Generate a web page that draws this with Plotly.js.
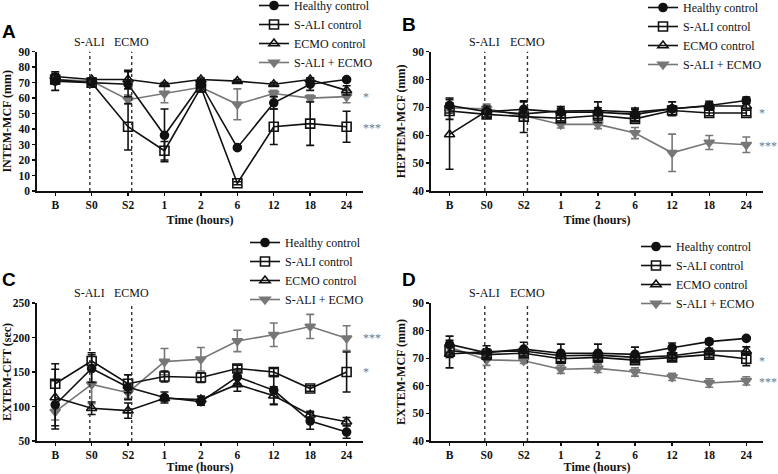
<!DOCTYPE html>
<html>
<head>
<meta charset="utf-8">
<script src="https://cdn.plot.ly/plotly-3.0.1.min.js"></script>
<style>
html, body { margin: 0; padding: 0; background: #fff; }
#chart { width: 778px; height: 474px; }
</style>
</head>
<body>
<div id="chart"></div>
<script>
// ---------- data ----------
const categories = ['B', 'S0', 'S2', '1', '2', '6', '12', '18', '24'];
const seriesNames = ['Healthy control', 'S-ALI control', 'ECMO control', 'S-ALI + ECMO'];
const eventLabels = ['S-ALI', 'ECMO'];
const eventPositions = [0.95, 2.1];

// Panel A: INTEM-MCF (mm)
const intemHealthy    = [71, 70, 69, 36, 69, 28, 57, 69, 72];
const intemHealthyErr = [6, 1, 8, 17, 2, 1, 4, 4, 1];
const intemSali       = [72, 70, 41.5, 26, 67, 5, 41.5, 43.5, 41.5];
const intemSaliErr    = [3, 1, 15, 6, 3, 1, 11.5, 14, 10];
const intemEcmo       = [74, 72, 72, 69, 72, 71, 69, 72, 65];
const intemEcmoErr    = [2, 1, 6, 1, 1, 1, 1, 1, 3];
const intemBoth       = [72, 71, 59, 63, 67, 56, 63, 60, 61];
const intemBothErr    = [2, 1, 3, 6, 2, 10, 2, 2, 4];

// Panel B: HEPTEM-MCF (mm)
const heptemHealthy    = [70.7, 68.5, 69.3, 68.3, 68.3, 67.5, 69.5, 70.7, 72.5];
const heptemHealthyErr = [2.7, 2, 2.7, 2, 3.7, 2.3, 2.5, 1.5, 1.2];
const heptemSali       = [68.7, 67.5, 66.7, 66.1, 67.1, 65.9, 68.9, 68, 68];
const heptemSaliErr    = [3, 1, 5.7, 1, 1, 1, 1.5, 1, 1];
const heptemEcmo       = [60.3, 68.7, 67.7, 68.7, 68.9, 68.3, 69.5, 70.5, 70.5];
const heptemEcmoErr    = [12.5, 1, 1, 1, 1, 1, 1, 1, 1];
const heptemBoth       = [69.8, 69.5, 67, 63.9, 63.9, 60.8, 53.7, 57.4, 56.6];
const heptemBothErr    = [1, 1.7, 1, 1.3, 1.5, 2, 6.7, 2.5, 2.8];

// Panel C: EXTEM-CFT (sec)
const cftHealthy    = [102.5, 155, 128, 113, 107, 143, 123.5, 79, 63];
const cftHealthyErr = [35, 20, 18, 8, 5, 10, 20, 12, 9];
const cftSali       = [133, 166, 133, 143.5, 142, 155, 150, 126, 150];
const cftSaliErr    = [29, 12, 13, 8, 7, 5, 5, 4, 29];
const cftEcmo       = [113, 97.5, 94, 112, 110, 132, 115.5, 88, 78];
const cftEcmoErr    = [41, 9, 11, 4, 5, 10, 13, 5, 6];
const cftBoth       = [92.5, 132, 120, 165, 168.5, 195, 204, 216, 199];
const cftBothErr    = [12, 28, 8, 19, 17, 15.5, 17, 17.5, 18];

// Panel D: EXTEM-MCF (mm)
const extemHealthy    = [75, 72, 73.3, 71.8, 71.8, 71.4, 73.8, 76, 77.2];
const extemHealthyErr = [3, 2.5, 2.5, 3.3, 3.3, 2.6, 1.7, 1, 0.5];
const extemSali       = [72.8, 71.3, 71.8, 69.8, 70.3, 69.3, 70.3, 71.3, 69.8];
const extemSaliErr    = [2.5, 1, 1, 1, 1, 1, 1, 1, 2.5];
const extemEcmo       = [71.5, 72.4, 72.6, 70.9, 71.1, 70.3, 70.9, 72.6, 72.6];
const extemEcmoErr    = [5, 1, 1, 1, 1, 1, 1, 1, 1.5];
const extemBoth       = [74, 69.4, 69.1, 66, 66.3, 65, 63.2, 61, 61.8];
const extemBothErr    = [1.5, 2, 1, 1.5, 1.5, 1.5, 1.3, 1.5, 1.5];

// significance marks: [label, y]
const starsA = [['*', 61], ['***', 41]];
const starsB = [['*', 68], ['***', 56]];
const starsC = [['***', 199], ['*', 150]];
const starsD = [['*', 69], ['***', 61.3]];

// ---------- build ----------
const xIdx = categories.map((c, i) => i);
const GRAY = '#777777';
const BLACK = '#111111';
const SERIF = 'Liberation Serif, Times New Roman, serif';

const styles = [
  { color: BLACK, symbol: 'circle', fill: BLACK, size: 8 },
  { color: BLACK, symbol: 'square-open', fill: BLACK, size: 9 },
  { color: BLACK, symbol: 'triangle-up-open', fill: BLACK, size: 9 },
  { color: GRAY, symbol: 'triangle-down', fill: GRAY, size: 9 }
];

const panels = [
  { ax: '', legend: 'legend', vals: [intemHealthy, intemSali, intemEcmo, intemBoth],
    errs: [intemHealthyErr, intemSaliErr, intemEcmoErr, intemBothErr], stars: starsA, starX: 8.4 },
  { ax: '2', legend: 'legend2', vals: [heptemHealthy, heptemSali, heptemEcmo, heptemBoth],
    errs: [heptemHealthyErr, heptemSaliErr, heptemEcmoErr, heptemBothErr], stars: starsB, starX: 8.3 },
  { ax: '3', legend: 'legend3', vals: [cftHealthy, cftSali, cftEcmo, cftBoth],
    errs: [cftHealthyErr, cftSaliErr, cftEcmoErr, cftBothErr], stars: starsC, starX: 8.4 },
  { ax: '4', legend: 'legend4', vals: [extemHealthy, extemSali, extemEcmo, extemBoth],
    errs: [extemHealthyErr, extemSaliErr, extemEcmoErr, extemBothErr], stars: starsD, starX: 8.3 }
];

const traces = [];
panels.forEach(p => {
  [3, 2, 1, 0].forEach(k => {
    const st = styles[k];
    traces.push({
      type: 'scatter', mode: 'lines+markers',
      x: xIdx, y: p.vals[k],
      name: seriesNames[k],
      legend: p.legend,
      legendrank: k + 1,
      xaxis: 'x' + p.ax, yaxis: 'y' + p.ax,
      line: { color: st.color, width: 1.6 },
      marker: { symbol: st.symbol, size: st.size, color: st.fill,
                line: { color: st.color, width: 1.6 } },
      error_y: { type: 'data', array: p.errs[k], visible: true,
                 color: st.color, thickness: 1.6, width: 4 },
      cliponaxis: false
    });
  });
});

const tickFont = { family: SERIF, size: 11.5, color: BLACK, weight: 'bold' };
const titleFont = { family: SERIF, size: 12, color: BLACK, weight: 'bold' };

function xAxis(domain, anchor) {
  return {
    domain: domain, anchor: anchor, range: [-0.5, 8.45],
    tickmode: 'array', tickvals: xIdx, ticktext: categories,
    showline: true, linecolor: BLACK, linewidth: 1.6,
    ticks: 'outside', ticklen: 3, tickwidth: 1.4, tickcolor: BLACK,
    showgrid: false, zeroline: false,
    tickfont: tickFont,
    title: { text: 'Time (hours)', font: titleFont, standoff: 5 }
  };
}
function yAxis(domain, anchor, range, dtick, title) {
  return {
    domain: domain, anchor: anchor, range: range, dtick: dtick, tick0: range[0],
    showline: true, linecolor: BLACK, linewidth: 1.6,
    ticks: 'outside', ticklen: 3, tickwidth: 1.4, tickcolor: BLACK,
    showgrid: false, zeroline: false,
    tickfont: tickFont,
    title: { text: title, font: titleFont, standoff: 4 }
  };
}

const W = 778, H = 474;
const leftX = [37 / W, 363 / W];
const rightX = [431 / W, 763 / W];
const topY = [1 - 191 / H, 1 - 51.7 / H];
const botY = [1 - 441 / H, 1 - 303 / H];

const layout = {
  width: W, height: H,
  margin: { l: 0, r: 0, t: 0, b: 0, autoexpand: false },
  paper_bgcolor: '#fff', plot_bgcolor: '#fff',
  font: { family: SERIF, color: BLACK },
  showlegend: true,
  xaxis: xAxis(leftX, 'y'),
  yaxis: yAxis(topY, 'x', [0, 90], 10, 'INTEM-MCF (mm)'),
  xaxis2: xAxis(rightX, 'y2'),
  yaxis2: yAxis(topY, 'x2', [40, 90], 10, 'HEPTEM-MCF (mm)'),
  xaxis3: xAxis(leftX, 'y3'),
  yaxis3: yAxis(botY, 'x3', [50, 250], 50, 'EXTEM-CFT (sec)'),
  xaxis4: xAxis(rightX, 'y4'),
  yaxis4: yAxis(botY, 'x4', [40, 90], 10, 'EXTEM-MCF (mm)'),
  shapes: [], annotations: []
};

const legendBase = {
  font: { family: SERIF, size: 12, color: BLACK },
  bgcolor: 'rgba(0,0,0,0)', borderwidth: 0,
  xanchor: 'left', yanchor: 'top', traceorder: 'normal', itemwidth: 30
};
layout.legend  = Object.assign({}, legendBase, { x: 254 / W, y: 1 - (-9) / H });
layout.legend2 = Object.assign({}, legendBase, { x: 643 / W, y: 1 - (-7) / H });
layout.legend3 = Object.assign({}, legendBase, { x: 245 / W, y: 1 - 228 / H });
layout.legend4 = Object.assign({}, legendBase, { x: 636 / W, y: 1 - 232 / H });

panels.forEach(p => {
  eventPositions.forEach((xv, i) => {
    layout.shapes.push({
      type: 'line', xref: 'x' + p.ax, yref: 'y' + p.ax + ' domain',
      x0: xv, x1: xv, y0: 0, y1: 1,
      line: { color: '#333', width: 1.4, dash: 'dot' }
    });
    layout.annotations.push({
      xref: 'x' + p.ax, yref: 'y' + p.ax + ' domain',
      x: xv, y: 1.0, yanchor: 'bottom', yshift: 1, showarrow: false,
      text: eventLabels[i], font: { family: SERIF, size: 12, color: BLACK }
    });
  });
  p.stars.forEach(s => {
    layout.annotations.push({
      xref: 'x' + p.ax, yref: 'y' + p.ax,
      x: p.starX, y: s[1], xanchor: 'left', yanchor: 'middle', showarrow: false,
      text: s[0], font: { family: SERIF, size: 12, color: GRAY }
    });
  });
});

[['A', 0, 19], ['B', 400, 12], ['C', 0, 267], ['D', 400, 267]].forEach(l => {
  layout.annotations.push({
    xref: 'paper', yref: 'paper', x: l[1] / W, y: 1 - l[2] / H,
    xanchor: 'left', yanchor: 'top', showarrow: false, text: l[0],
    font: { family: 'Liberation Sans, Arial, sans-serif', size: 19, color: '#000', weight: 'bold' }
  });
});

Plotly.newPlot('chart', traces, layout, { staticPlot: true, displayModeBar: false });
</script>
</body>
</html>
